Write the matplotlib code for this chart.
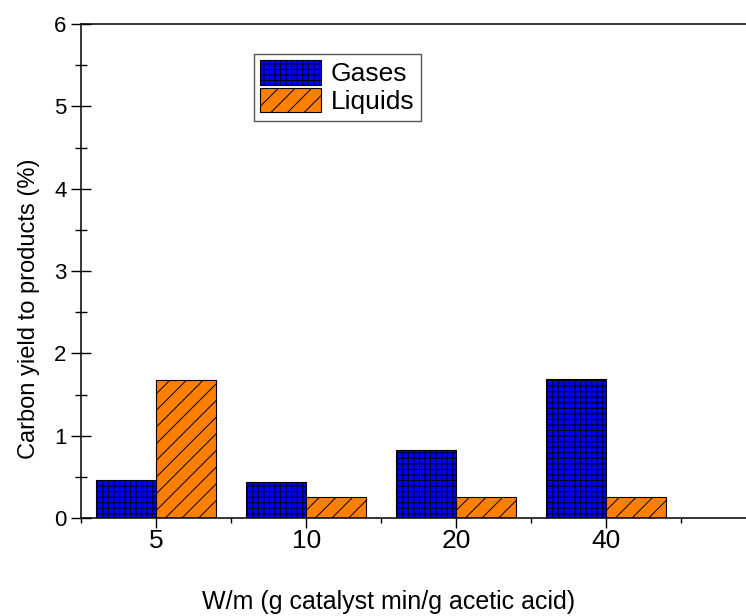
import matplotlib
matplotlib.use("Agg")
import matplotlib.pyplot as plt
import numpy as np
from matplotlib.ticker import MultipleLocator, FixedLocator

categories = ["5", "10", "20", "40"]
gases = [0.46, 0.44, 0.82, 1.69]
liquids = [1.68, 0.25, 0.255, 0.26]

plt.rcParams['font.family'] = ['Liberation Sans', 'DejaVu Sans']
plt.rcParams['hatch.linewidth'] = 0.7

fig = plt.figure(figsize=(7.46, 6.16), dpi=100)
ax = fig.add_axes([81/746, 98/616, 1 - 81/746, 494/616])

x = np.arange(len(categories))
w = 0.4
ax.bar(x - w/2, gases, width=w, color='#0000FF', edgecolor='black', linewidth=0.8,
       hatch='+++', label='Gases')
ax.bar(x + w/2, liquids, width=w, color='#FF8000', edgecolor='black', linewidth=0.8,
       hatch='//', label='Liquids')

ax.set_xlim(-0.5, 3.93)
ax.set_ylim(0, 6)

ax.set_xticks(x)
ax.set_xticklabels(categories)
ax.xaxis.set_minor_locator(FixedLocator([-0.5, 0.5, 1.5, 2.5, 3.5]))
ax.yaxis.set_major_locator(MultipleLocator(1))
ax.yaxis.set_minor_locator(MultipleLocator(0.5))

ax.tick_params(axis='x', which='major', direction='out', length=7.2, width=1.0,
               labelsize=19, pad=1, top=False)
ax.tick_params(axis='x', which='minor', direction='out', length=3.6, width=1.0, top=False)
ax.tick_params(axis='y', which='major', direction='inout', length=15, width=1.0,
               labelsize=16, pad=3, right=False)
ax.tick_params(axis='y', which='minor', direction='inout', length=8, width=1.0, right=False)

for s in ['left', 'bottom', 'top']:
    ax.spines[s].set_linewidth(1.1)
    ax.spines[s].set_color('black')
ax.spines['right'].set_visible(False)

ax.set_xlabel('W/m (g catalyst min/g acetic acid)', fontsize=18, labelpad=26)
ax.xaxis.label.set_x(0.462)
ax.set_ylabel('Carbon yield to products (%)', fontsize=17)
ax.yaxis.set_label_coords(-0.062, 0.423)

leg = ax.legend(loc='upper left', bbox_to_anchor=(0.26, 0.94), fontsize=19,
                fancybox=False, framealpha=1, edgecolor='#555555',
                handlelength=2.3, handleheight=1.05, handletextpad=0.35,
                borderpad=0.25, labelspacing=0.05, borderaxespad=0)
leg.get_frame().set_linewidth(1.0)

fig.savefig('out.png', dpi=100)
